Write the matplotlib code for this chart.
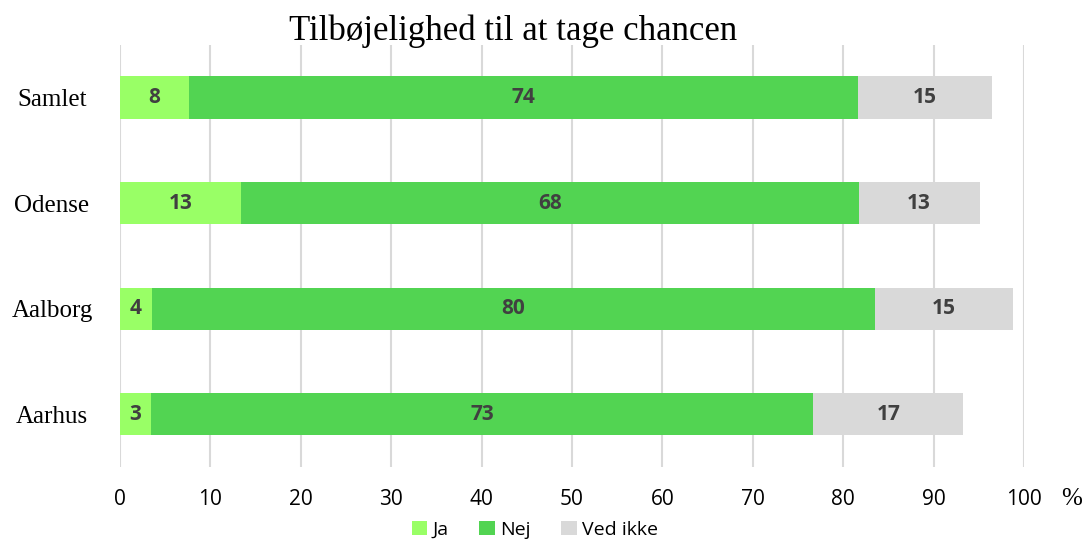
import numpy as np
import matplotlib.pyplot as plt

cities = ["Samlet", "Odense", "Aalborg", "Aarhus"]
ja = [7.6, 13.4, 3.5, 3.4]
nej = [74.0, 68.3, 80.0, 73.3]
ved_ikke = [14.9, 13.4, 15.3, 16.6]
ticks = [0, 10, 20, 30, 40, 50, 60, 70, 80, 90, 100]

series = [("Ja", ja, "#99FF66"), ("Nej", nej, "#52D452"), ("Ved ikke", ved_ikke, "#D9D9D9")]

fig = plt.figure(figsize=(10.87, 5.4), dpi=100)
ax = fig.add_axes([0.1104, 0.135, 0.8316, 0.782])

y = np.arange(len(cities))
left = np.zeros(len(cities))
for name, vals, color in series:
    vals = np.array(vals)
    bars = ax.barh(y, vals, left=left, height=0.4, color=color, label=name, zorder=2)
    for b, v in zip(bars, vals):
        ax.text(b.get_x() + b.get_width() / 2, b.get_y() + b.get_height() / 2,
                f"{v:.0f}", ha="center", va="center", fontsize=15,
                fontweight="bold", color="#404040", family="Open Sans", zorder=3)
    left += vals

ax.set_xlim(0, 100)
ax.set_ylim(3.5, -0.5)
ax.set_xticks(ticks)
ax.set_xticklabels([str(t) for t in ticks], fontsize=15, family="Open Sans")
ax.set_yticks(y)
ax.set_yticklabels(cities, fontsize=18, family="Liberation Serif", ha="center")
ax.tick_params(axis="both", length=0)
ax.tick_params(axis="x", pad=16)
ax.tick_params(axis="y", pad=49)
ax.grid(axis="x", color="#D9D9D9", linewidth=1.5, zorder=0)
for s in ax.spines.values():
    s.set_visible(False)

fig.text(0.472, 0.943, "Tilbøjelighed til at tage chancen", ha="center", va="center",
         fontsize=25, family="Liberation Serif")
fig.text(0.986, 0.076, "%", ha="center", va="center", fontsize=18, family="Liberation Serif")

leg = fig.legend(loc="lower center", bbox_to_anchor=(0.492, -0.03), ncol=3, frameon=False,
                 prop={"family": "Open Sans", "size": 14}, handlelength=0.8, handleheight=0.8,
                 handletextpad=0.25, columnspacing=1.6)

fig.savefig("out.png", dpi=100)
